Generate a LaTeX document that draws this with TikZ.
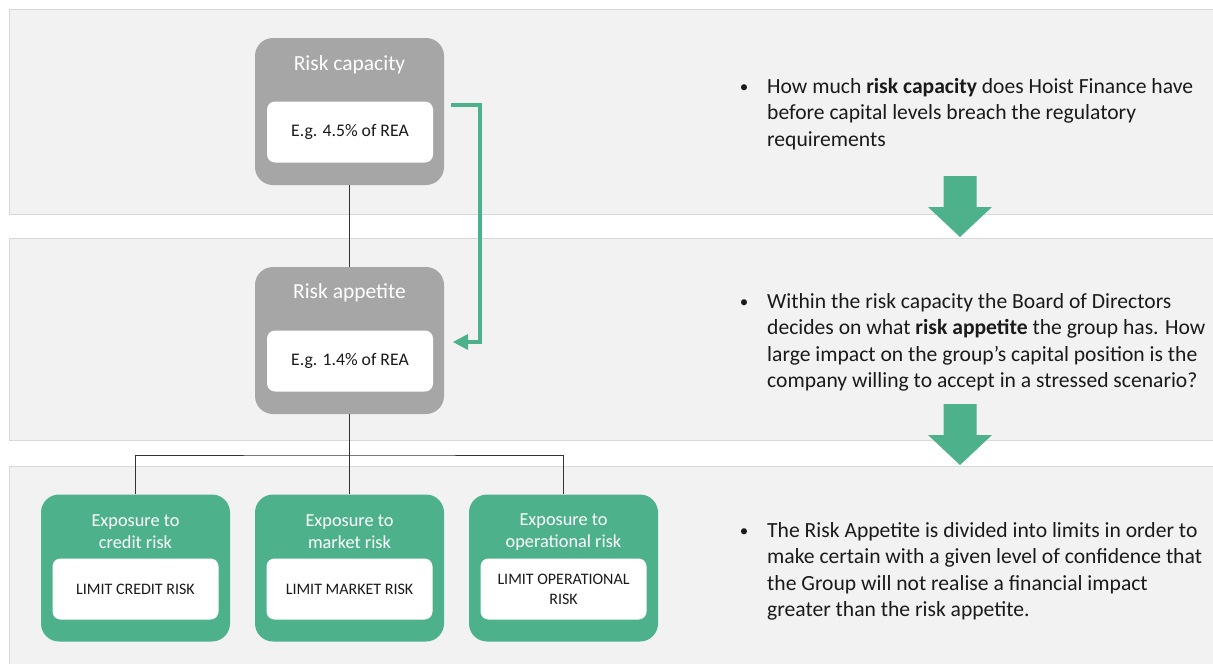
\documentclass[tikz,border=0pt]{standalone}
\usepackage{fontspec}
\setmainfont{Carlito}
\usetikzlibrary{positioning}

\definecolor{bandgray}{RGB}{242,242,242}
\definecolor{bandline}{RGB}{217,217,217}
\definecolor{boxgray}{RGB}{166,166,166}
\definecolor{hgreen}{RGB}{77,178,139}
\definecolor{txt}{RGB}{26,26,26}

\begin{document}
\begin{tikzpicture}[
  x=1pt, y=-1pt,
  band/.style = {fill=bandgray, draw=bandline, line width=0.8pt},
  outerbox/.style = {rounded corners=18pt, minimum width=189pt, minimum height=147pt, inner sep=0pt},
  innerbox/.style = {fill=white, rounded corners=8pt, minimum width=166pt, minimum height=61pt, inner sep=0pt, align=center, text=txt},
  boxtitle/.style = {text=white, font=\fontsize{21.5}{24}\selectfont, align=center, inner sep=0pt},
  greentitle/.style = {text=white, font=\fontsize{18.3}{22}\selectfont, align=center, inner sep=0pt},
  bullettext/.style = {anchor=north west, align=left, inner sep=0pt, text=txt, font=\fontsize{21.6}{26.5}\selectfont},
  bulletdot/.style = {inner sep=0pt, text=txt, font=\fontsize{17}{20}\selectfont},
  link/.style = {draw=black!80, line width=0.8pt},
  blockarrow/.style = {fill=hgreen}
  ]
  \useasboundingbox (0,0) rectangle (1213,664);

  % background bands
  \draw[band] (1220,9) -- (9,9) -- (9,214) -- (1220,214);
  \draw[band] (1220,238) -- (9,238) -- (9,440) -- (1220,440);
  \draw[band] (1220,466) -- (9,466) -- (9,670) -- (1220,670);

  % risk capacity and risk appetite
  \node[outerbox, fill=boxgray] (cap) at (349.5,111.5) {};
  \node[boxtitle] (captitle) at (349.5,65) {Risk capacity};
  \node[innerbox, font=\fontsize{17.7}{20}\selectfont] (capval) at (350,132) {E.g. 4.5\% of REA};

  \node[outerbox, fill=boxgray] (app) at (349.5,340.5) {};
  \node[boxtitle] (apptitle) at (349.5,293) {Risk appetite};
  \node[innerbox, font=\fontsize{17.7}{20}\selectfont] (appval) at (350,361) {E.g. 1.4\% of REA};

  % exposure boxes
  \foreach \name/\cx/\kind/\lim in {credit/135.5/credit risk/LIMIT CREDIT RISK,
                                   market/349.5/market risk/LIMIT MARKET RISK,
                                   oper/563.5/operational risk/{LIMIT OPERATIONAL\\RISK}}
  {
    \node[outerbox, fill=hgreen] (\name) at (\cx,568) {};
    \node[greentitle] (\name title) at (\cx,532) {Exposure to\\\kind};
    \node[innerbox, font=\fontsize{16}{20}\selectfont] (\name lim) at (\cx,589) {\lim};
  }

  % tree connectors
  \coordinate (split) at (349.5,455);
  \draw[link] (cap.south) -- (app.north);
  \draw[link] (app.south) -- (split);
  \draw[link] (credit.north) |- (split) -| (oper.north);
  \draw[link] (split) -- (market.north);

  % green feedback arrow
  \coordinate (fbstart) at (451,105);
  \coordinate (fbend) at (453,342);
  \draw[hgreen, line width=4pt] (fbstart) -- (480,105) -- (480,342) -- (466,342);
  \fill[hgreen] (fbend) -- (468,334) -- (468,350) -- cycle;

  % right hand text
  \node[bulletdot] (dot1) at (744,89) {\textbullet};
  \node[bullettext] (txt1) at (767,78) {How much \textbf{risk capacity} does Hoist Finance have\\before capital levels breach the regulatory\\requirements};
  \node[bulletdot] (dot2) at (744,304) {\textbullet};
  \node[bullettext] (txt2) at (767,293) {Within the risk capacity the Board of Directors\\decides on what \textbf{risk appetite} the group has. How\\large impact on the group’s capital position is the\\company willing to accept in a stressed scenario?};
  \node[bulletdot] (dot3) at (744,533) {\textbullet};
  \node[bullettext] (txt3) at (767,522) {The Risk Appetite is divided into limits in order to\\make certain with a given level of confidence that\\the Group will not realise a financial impact\\greater than the risk appetite.};

  % block arrows
  \foreach \ytop/\yhead/\ytip in {176/207/237, 404/435/465}
    \fill[blockarrow] (943.5,\ytop) -- (976.5,\ytop) -- (976.5,\yhead) -- (992,\yhead)
      -- (960,\ytip) -- (928,\yhead) -- (943.5,\yhead) -- cycle;
\end{tikzpicture}
\end{document}
